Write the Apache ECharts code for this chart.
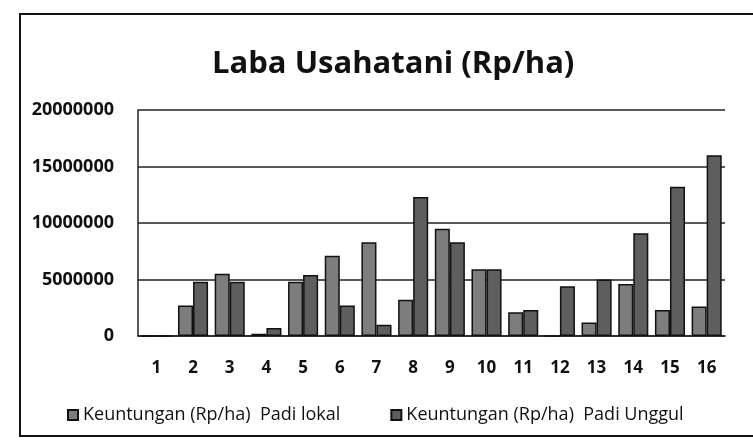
<!DOCTYPE html>
<html><head><meta charset="utf-8">
<script src="https://cdn.jsdelivr.net/npm/echarts@6/dist/echarts.min.js"></script>
<style>html,body{margin:0;padding:0;background:#ffffff}#c{width:753px;height:441px}</style>
</head><body><div id="c"></div>
<script>
const categories = ['1','2','3','4','5','6','7','8','9','10','11','12','13','14','15','16'];
const padiLokal = [0, 2700000, 5500000, 200000, 4800000, 7100000, 8300000, 3200000, 9500000, 5900000, 2100000, 0, 1200000, 4600000, 2300000, 2600000];
const padiUnggul = [0, 4800000, 4800000, 700000, 5400000, 2700000, 1000000, 12300000, 8300000, 5900000, 2300000, 4400000, 5000000, 9100000, 13200000, 16000000];
const yTicks = [0, 5000000, 10000000, 15000000, 20000000];
const seriesNames = ['Keuntungan (Rp/ha)  Padi lokal', 'Keuntungan (Rp/ha)  Padi Unggul'];

const font = 'Open Sans';
const chart = echarts.init(document.getElementById('c'));
chart.setOption({
  backgroundColor: '#ffffff',
  animation: false,
  textStyle: { fontFamily: font },
  graphic: [{
    type: 'rect', shape: { x: 20, y: 14, width: 760, height: 422 },
    style: { fill: 'none', stroke: '#111', lineWidth: 2 }
  }],
  title: {
    text: 'Laba Usahatani (Rp/ha)', left: 207, top: 44,
    textStyle: { fontFamily: font, fontSize: 31, fontWeight: 'bold', color: '#111' }
  },
  legend: {
    bottom: 12, left: 62, itemWidth: 10, itemHeight: 10, itemGap: 50,
    icon: 'rect',
    textStyle: { fontFamily: font, fontSize: 18, color: '#111' },
    data: seriesNames
  },
  grid: { left: 138, right: 28, top: 110, bottom: 105, containLabel: false },
  xAxis: {
    type: 'category', data: categories,
    axisLine: { show: true, lineStyle: { color: '#222', width: 1.5 } },
    axisTick: { show: false },
    axisLabel: { fontFamily: font, fontSize: 17, fontWeight: 'bold', color: '#111', margin: 24 }
  },
  yAxis: {
    type: 'value', min: 0, max: 20000000, interval: 5000000,
    axisLine: { show: true, lineStyle: { color: '#222', width: 1.5 } },
    axisTick: { show: false },
    splitLine: { lineStyle: { color: '#222', width: 1.5 } },
    axisLabel: {
      fontFamily: font, fontSize: 18, fontWeight: 'bold', color: '#111', margin: 24,
      formatter: v => yTicks.includes(v) ? String(v) : ''
    }
  },
  series: [
    { name: seriesNames[0], type: 'bar', data: padiLokal, barGap: '0%', barCategoryGap: '18%',
      itemStyle: { color: '#7d7d7d', borderColor: '#111', borderWidth: 1.5 } },
    { name: seriesNames[1], type: 'bar', data: padiUnggul,
      itemStyle: { color: '#5e5e5e', borderColor: '#111', borderWidth: 1.5 } }
  ]
});
</script></body></html>
